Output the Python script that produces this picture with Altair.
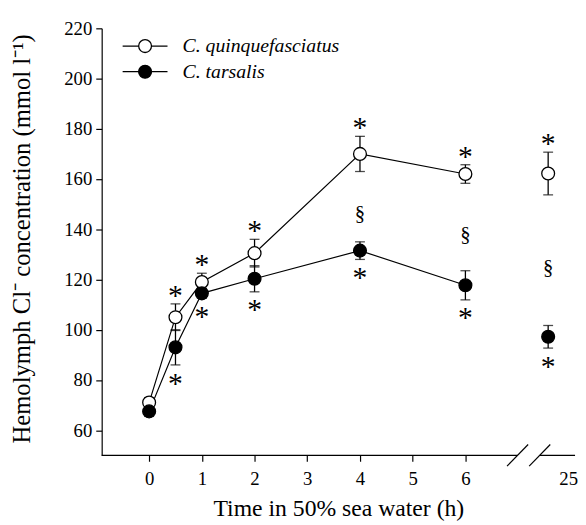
import altair as alt
import pandas as pd

# ---- data ----
times = [0, 0.5, 1, 2, 4, 6, 25]
quinq_mean = [71.0, 105.0, 119.0, 130.5, 170.0, 162.0, 162.2]
quinq_sem = [2.0, 5.3, 3.5, 5.5, 7.0, 3.7, 8.5]
tars_mean = [67.5, 93.0, 114.5, 120.3, 131.5, 117.7, 97.2]
tars_sem = [2.0, 7.0, 2.0, 5.2, 3.5, 5.8, 4.5]
quinq_star = [0, 1, 1, 1, 1, 1, 1]   # * above C. quinquefasciatus
tars_star = [0, 1, 1, 1, 1, 1, 1]    # * below C. tarsalis
section = [0, 0, 0, 0, 1, 1, 1]      # § between the species
series_names = ["C. quinquefasciatus", "C. tarsalis"]
x_ticks = [0, 1, 2, 3, 4, 5, 6]
y_ticks = [60, 80, 100, 120, 140, 160, 180, 200, 220]

# axis-break layout (x axis is broken between 6 h and 25 h)
BREAK_POS = 7.57      # axis position used for 25 h
LABEL25_POS = 7.95    # where the "25" label sits
X_MIN, X_MAX = -0.9, 8.08
GAP_L, GAP_R = 6.99, 7.41
SLASH_W = 0.2

FONT = "Liberation Serif"
STAR = "*"

def xpos(t):
    return t if t <= 6 else BREAK_POS

rows = []
for name, means, sems, stars in [
    (series_names[0], quinq_mean, quinq_sem, quinq_star),
    (series_names[1], tars_mean, tars_sem, tars_star),
]:
    for t, m, s, st in zip(times, means, sems, stars):
        rows.append(dict(series=name, t=t, xp=xpos(t), mean=m, lo=m - s, hi=m + s, star=st))
df = pd.DataFrame(rows)

sec_rows = []
for t, qm, qs, tm, ts, sc in zip(times, quinq_mean, quinq_sem, tars_mean, tars_sem, section):
    if sc:
        sec_rows.append(dict(xp=xpos(t), y=((qm - qs) + (tm + ts)) / 2, txt="§"))
df_sec = pd.DataFrame(sec_rows)

W, H = 480, 433

xscale = alt.Scale(domain=[X_MIN, X_MAX], nice=False, zero=False)
yscale = alt.Scale(domain=[50, 220], nice=False, zero=False)

X_TITLE = "Time in 50% sea water (h)"
Y_TITLE = "Hemolymph Cl⁻ concentration (mmol l⁻¹)"

xaxis = alt.Axis(
    values=x_ticks + [LABEL25_POS],
    labelExpr="datum.value > 7 ? '25' : datum.label",
    tickOpacity={"expr": "datum.value > 7 ? 0 : 1"},
    domain=False,
    title=X_TITLE,
    titleY=61,
    titleBaseline="alphabetic",
    titleFontSize=24,
    labelPadding=9,
)
yaxis = alt.Axis(
    values=y_ticks,
    title=Y_TITLE,
    titleX=-73,
    titleY=213,
    titleBaseline="alphabetic",
    titleFontSize=25,
    labelPadding=4,
)

def X(field):
    return alt.X(field, scale=xscale, axis=xaxis, title=X_TITLE)

def Y(field):
    return alt.Y(field, scale=yscale, axis=yaxis, title=Y_TITLE)

base = alt.Chart(df)

lines = base.transform_filter("datum.t <= 6").mark_line(color="black", strokeWidth=1.2).encode(
    x=X("xp:Q"), y=Y("mean:Q"), detail="series:N"
)

errs = base.mark_errorbar(ticks={"size": 10}, thickness=1.3, color="black").encode(
    x=X("xp:Q"), y=Y("lo:Q"), y2="hi:Q"
)

symbol_path = "M-3.5,0L-1,0M1,0L3.5,0M-1,0A1,1,0,1,0,1,0A1,1,0,1,0,-1,0Z"

points = base.mark_point(filled=False, size=169, strokeWidth=1.3, stroke="black", opacity=1, shape="circle").encode(
    x=X("xp:Q"),
    y=Y("mean:Q"),
    fill=alt.Fill(
        "series:N",
        scale=alt.Scale(domain=series_names, range=["white", "black"]),
        legend=alt.Legend(
            title=None,
            orient="none",
            legendX=34,
            legendY=8,
            padding=0,
            symbolType=symbol_path,
            symbolSize=169,
            symbolStrokeColor="black",
            symbolStrokeWidth=1.3,
            symbolOpacity=1,
            labelOffset=28,
            labelFontStyle="italic",
            labelFont=FONT,
            labelFontSize=20,
            labelColor="black",
            rowPadding=6,
        ),
    ),
)

stars_up = base.transform_filter(
    (alt.datum.series == series_names[0]) & (alt.datum.star == 1)
).mark_text(text=STAR, font=FONT, fontSize=30, dy=1, baseline="alphabetic", color="black").encode(
    x=X("xp:Q"), y=Y("hi:Q")
)
stars_dn = base.transform_filter(
    (alt.datum.series == series_names[1]) & (alt.datum.star == 1)
).mark_text(text=STAR, font=FONT, fontSize=30, dy=28, baseline="alphabetic", color="black").encode(
    x=X("xp:Q"), y=Y("lo:Q")
)
secs = alt.Chart(df_sec).mark_text(font=FONT, fontSize=21, dy=8, baseline="middle", color="black").encode(
    x=X("xp:Q"), y=Y("y:Q"), text="txt:N"
)

# broken x-axis line and the break marks
df_axis = pd.DataFrame({"x": [X_MIN, GAP_R], "x2": [GAP_L, X_MAX]})
axis_line = alt.Chart(df_axis).mark_rule(color="black", strokeWidth=1.2).encode(
    x=X("x:Q"), x2="x2:Q", y=alt.value(H)
)
df_slash = pd.DataFrame({"a": [GAP_L - SLASH_W, GAP_R - SLASH_W], "b": [GAP_L + SLASH_W, GAP_R + SLASH_W]})
slashes = alt.Chart(df_slash).mark_rule(color="black", strokeWidth=1.2).encode(
    x=X("a:Q"), x2="b:Q", y=alt.value(H + 11), y2=alt.value(H - 11)
)

chart = alt.layer(lines, errs, points, stars_up, stars_dn, secs, axis_line, slashes).properties(
    width=W, height=H, padding={"left": 1, "top": 8, "right": 0, "bottom": 0}
).configure_view(stroke=None).configure_axis(
    labelFont=FONT, titleFont=FONT, labelFontSize=19,
    titleFontWeight="normal", labelColor="black", titleColor="black",
    tickColor="black", domainColor="black", tickSize=6, tickWidth=1.2,
    domainWidth=1.2, grid=False,
).configure_legend(labelFont=FONT, labelFontStyle="italic")

chart.save("out.html", embed_options={"renderer": "svg", "actions": False})
